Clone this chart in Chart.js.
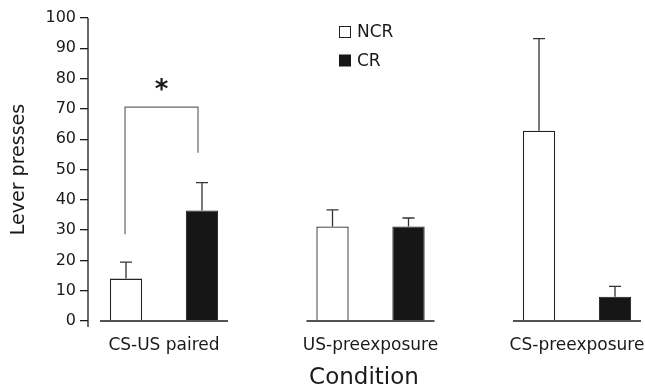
<!DOCTYPE html>
<html>
<head>
<meta charset="utf-8">
<script src="https://cdn.jsdelivr.net/npm/chart.js@4"></script>
<style>
  html, body { margin: 0; padding: 0; background: #fff; }
  #wrap { width: 645px; height: 392px; }
</style>
</head>
<body>
<div id="wrap"><canvas id="myChart" width="645" height="392"></canvas></div>
<script>
// data
var categories = ['CS-US paired', 'US-preexposure', 'CS-preexposure'];
var ncrMeans = [14, 31.2, 62.8];
var ncrErr = [5.4, 5.5, 30.4];
var crMeans = [36.5, 31.2, 8];
var crErr = [9.2, 2.8, 3.4];
var yTicks = [0, 10, 20, 30, 40, 50, 60, 70, 80, 90, 100];
// significance bracket: left foot, top, right foot (lever presses)
var bracketLevels = [28.6, 70.6, 55.5];

var ink = '#1a1a1a';
Chart.defaults.font.family = "'DejaVu Sans', sans-serif";
Chart.defaults.color = ink;

function toPoints(vals){
    return vals.map(function(v, i){ return {x: i + 1, y: v}; });
}

// error bars, broken baselines, y axis line, bracket, legend
var extras = {
    id: 'extras',
    afterDatasetsDraw: function(chart){
        var ctx = chart.ctx;
        var xs = chart.scales.x, ys = chart.scales.y;
        var y0 = ys.getPixelForValue(0);
        ctx.save();

        // error bars (upward only)
        var errs = [ncrErr, crErr];
        var means = [ncrMeans, crMeans];
        ctx.strokeStyle = '#333';
        ctx.lineWidth = 1.3;
        [0, 1].forEach(function(d){
            var meta = chart.getDatasetMeta(d);
            meta.data.forEach(function(bar, i){
                var top = ys.getPixelForValue(means[d][i] + errs[d][i]);
                var base = ys.getPixelForValue(means[d][i]);
                ctx.beginPath();
                ctx.moveTo(bar.x, base);
                ctx.lineTo(bar.x, top);
                ctx.moveTo(bar.x - 6, top);
                ctx.lineTo(bar.x + 6, top);
                ctx.stroke();
            });
        });

        // baseline under each group
        ctx.strokeStyle = ink;
        ctx.lineWidth = 1.5;
        categories.forEach(function(c, i){
            ctx.beginPath();
            ctx.moveTo(xs.getPixelForValue(i + 1 - 0.31), y0);
            ctx.lineTo(xs.getPixelForValue(i + 1 + 0.31), y0);
            ctx.stroke();
        });

        // y axis line, running a little below zero
        ctx.lineWidth = 1.3;
        ctx.beginPath();
        ctx.moveTo(chart.chartArea.left, ys.getPixelForValue(100));
        ctx.lineTo(chart.chartArea.left, y0 + 6);
        ctx.stroke();

        // bracket between the CS-US paired bars
        var bl = chart.getDatasetMeta(0).data[0].x - 1;
        var br = chart.getDatasetMeta(1).data[0].x - 4;
        ctx.strokeStyle = '#666';
        ctx.lineWidth = 1.2;
        ctx.beginPath();
        ctx.moveTo(bl, ys.getPixelForValue(bracketLevels[0]));
        ctx.lineTo(bl, ys.getPixelForValue(bracketLevels[1]));
        ctx.lineTo(br, ys.getPixelForValue(bracketLevels[1]));
        ctx.lineTo(br, ys.getPixelForValue(bracketLevels[2]));
        ctx.stroke();
        ctx.fillStyle = ink;
        ctx.font = "bold 26px 'DejaVu Sans'";
        ctx.textAlign = 'center';
        ctx.textBaseline = 'alphabetic';
        ctx.fillText('*', (bl + br) / 2, ys.getPixelForValue(bracketLevels[1]) - 9);

        // legend
        ctx.font = "17px 'DejaVu Sans'";
        ctx.textAlign = 'left';
        ctx.textBaseline = 'middle';
        chart.data.datasets.forEach(function(ds, k){
            var ly = 32 + k * 28.5;
            ctx.fillStyle = ds.backgroundColor;
            ctx.fillRect(339.5, ly - 5.5, 11, 11);
            ctx.strokeStyle = ds.borderColor;
            ctx.lineWidth = 1;
            ctx.strokeRect(339.5, ly - 5.5, 11, 11);
            ctx.fillStyle = ink;
            ctx.fillText(ds.label, 357, ly + 1);
        });
        ctx.restore();
    }
};

var ctx = document.getElementById('myChart').getContext('2d');
var chart = new Chart(ctx, {
    type: 'bar',
    data: {
        datasets: [{
            label: 'NCR',
            data: toPoints(ncrMeans),
            backgroundColor: '#ffffff',
            borderColor: '#222',
            borderWidth: 1.3,
            borderSkipped: 'bottom'
        },
        {
            label: 'CR',
            data: toPoints(crMeans),
            backgroundColor: '#161616',
            borderColor: '#161616',
            borderWidth: 1,
            borderSkipped: 'bottom'
        }]
    },
    options: {
        responsive: false,
        animation: false,
        categoryPercentage: 0.736,
        barPercentage: 0.425,
        layout: { padding: { top: 18, right: 5, bottom: 0, left: 0 } },
        plugins: {
            legend: { display: false },
            tooltip: { enabled: false }
        },
        scales: {
            x: {
                type: 'linear',
                offset: false,
                bounds: 'data',
                min: 0.632,
                max: 3.305,
                grid: { display: false, drawTicks: false, offset: false },
                border: { display: false },
                afterBuildTicks: function(scale){
                    scale.ticks = categories.map(function(c, i){ return {value: i + 1}; });
                },
                afterFit: function(scale){
                    scale.height = 71;
                    scale.paddingLeft = 0;
                    scale.paddingRight = 0;
                },
                ticks: {
                    padding: 14,
                    maxRotation: 0,
                    autoSkip: false,
                    font: { size: 17 },
                    color: ink,
                    callback: function(v){ return categories[Math.round(v) - 1]; }
                },
                title: {
                    display: true,
                    text: 'Condition',
                    font: { size: 23 },
                    color: ink,
                    padding: { top: 0, bottom: 0 }
                }
            },
            y: {
                min: 0,
                max: 100,
                afterBuildTicks: function(scale){
                    scale.ticks = yTicks.map(function(v){ return {value: v}; });
                },
                afterFit: function(scale){ scale.width = 88; },
                grid: {
                    drawOnChartArea: false,
                    drawTicks: true,
                    tickLength: 8,
                    color: ink,
                    lineWidth: 1.3
                },
                border: { display: false },
                ticks: {
                    padding: 4,
                    font: { size: 16 },
                    color: ink
                },
                title: {
                    display: true,
                    text: 'Lever presses',
                    font: { size: 19 },
                    color: ink,
                    padding: { top: 8, bottom: 0 }
                }
            }
        }
    },
    plugins: [extras]
});
</script>
</body>
</html>
